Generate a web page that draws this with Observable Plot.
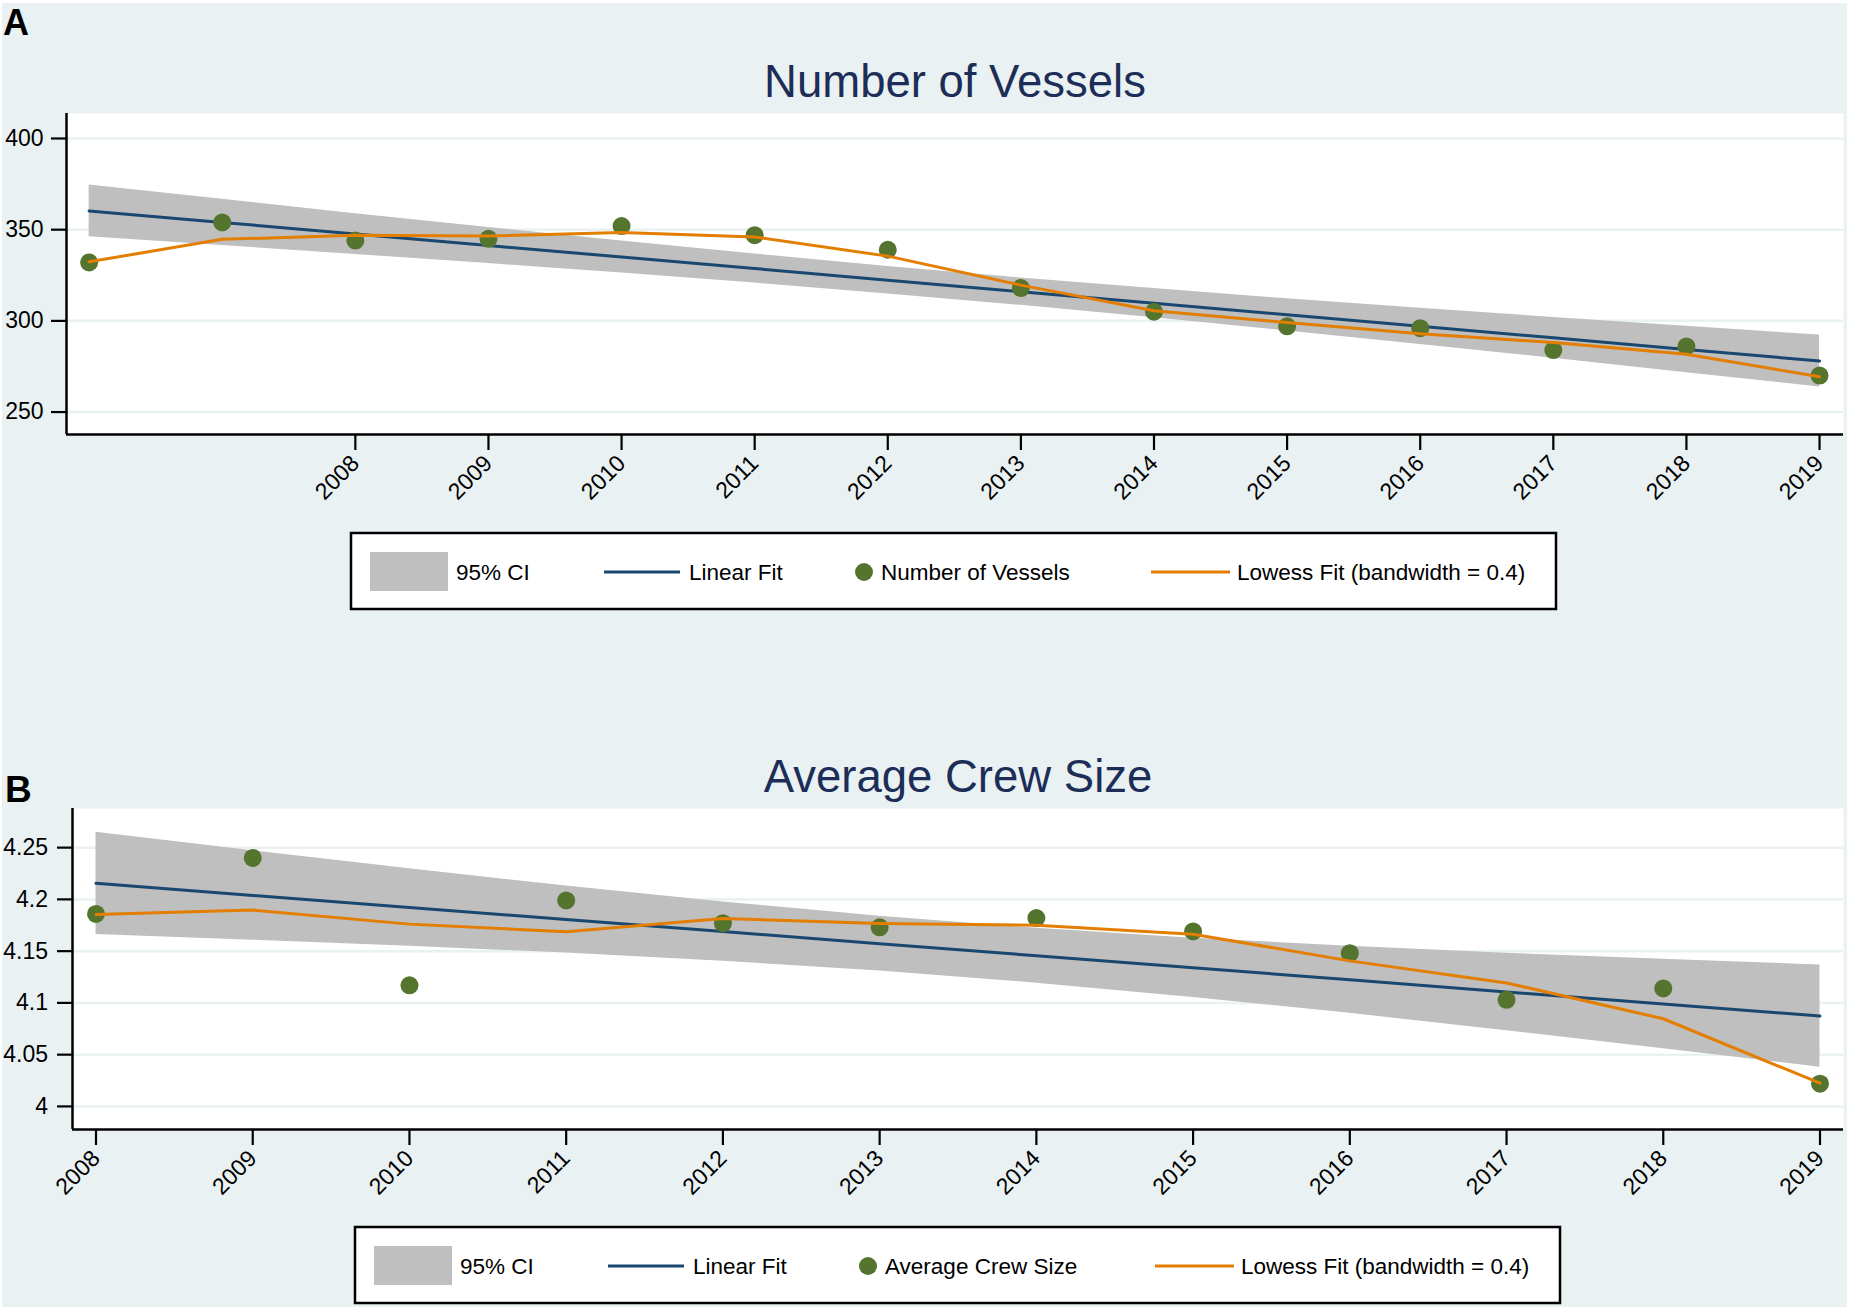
<!DOCTYPE html>
<html>
<head>
<meta charset="utf-8">
<script src="https://cdn.jsdelivr.net/npm/d3@7"></script>
<script src="https://cdn.jsdelivr.net/npm/@observablehq/plot@0.6"></script>
<style>
  html, body { margin: 0; padding: 0; background: #ffffff; }
  #page { position: relative; width: 1849px; height: 1309px; overflow: hidden; font-family: "Liberation Sans", Arial, sans-serif; }
  #bg { position: absolute; left: 2px; top: 3px; width: 1845px; height: 1304px; background: #e9f1f2; }
  .plot { position: absolute; left: 0; }
  #overlay { position: absolute; left: 0; top: 0; }
</style>
</head>
<body>
<div id="page">
  <div id="bg"></div>
  <div id="plotA" class="plot" style="top:100px"></div>
  <div id="plotB" class="plot" style="top:795px"></div>
  <svg id="overlay" width="1849" height="1309"></svg>
</div>
<script>
// ---------- Data ----------
const vesselYears   = [2006, 2007, 2008, 2009, 2010, 2011, 2012, 2013, 2014, 2015, 2016, 2017, 2018, 2019];
const vessels       = [332, 354, 344, 345, 352, 347, 339, 318, 305, 297, 296, 284, 286, 270];
const vesselsLinear = [360.3, 354.0, 347.6, 341.3, 335.0, 328.7, 322.3, 316.0, 309.7, 303.3, 297.0, 290.7, 284.3, 278.0];
const vesselsCiLow  = [346.1, 341.3, 336.4, 331.4, 326.2, 320.7, 314.8, 308.5, 301.7, 294.5, 287.1, 279.5, 271.6, 263.8];
const vesselsCiHigh = [374.5, 366.7, 358.8, 351.2, 343.8, 336.7, 329.8, 323.5, 317.7, 312.1, 306.9, 301.9, 297.0, 292.2];
const vesselsLowess = [332.4, 344.7, 346.9, 346.5, 348.4, 346.0, 335.5, 319.6, 305.5, 299.1, 293.0, 288.1, 281.7, 269.4];
const vesselYTicks  = [250, 300, 350, 400];
const vesselXTicks  = [2008, 2009, 2010, 2011, 2012, 2013, 2014, 2015, 2016, 2017, 2018, 2019];

const crewYears   = [2008, 2009, 2010, 2011, 2012, 2013, 2014, 2015, 2016, 2017, 2018, 2019];
const crew        = [4.186, 4.240, 4.117, 4.199, 4.177, 4.173, 4.182, 4.169, 4.148, 4.103, 4.114, 4.022];
const crewLinear  = [4.2155, 4.2038, 4.1922, 4.1805, 4.1689, 4.1572, 4.1456, 4.1339, 4.1223, 4.1106, 4.0990, 4.0873];
const crewCiLow   = [4.1661, 4.1606, 4.1548, 4.1481, 4.1403, 4.1307, 4.1191, 4.1053, 4.0899, 4.0732, 4.0558, 4.0379];
const crewCiHigh  = [4.2649, 4.2470, 4.2296, 4.2129, 4.1975, 4.1837, 4.1721, 4.1625, 4.1547, 4.1480, 4.1422, 4.1367];
const crewLowess  = [4.1855, 4.1897, 4.1761, 4.1687, 4.1816, 4.1767, 4.1751, 4.1664, 4.1406, 4.1193, 4.0847, 4.0224];
const crewYTicks  = [4, 4.05, 4.1, 4.15, 4.2, 4.25];
const crewYTickLabels = ["4", "4.05", "4.1", "4.15", "4.2", "4.25"];
const crewXTicks  = [2008, 2009, 2010, 2011, 2012, 2013, 2014, 2015, 2016, 2017, 2018, 2019];

const titles = ["Number of Vessels", "Average Crew Size"];
const panelLetters = ["A", "B"];
const legendLabelsA = ["95% CI", "Linear Fit", "Number of Vessels", "Lowess Fit (bandwidth = 0.4)"];
const legendLabelsB = ["95% CI", "Linear Fit", "Average Crew Size", "Lowess Fit (bandwidth = 0.4)"];

// ---------- Styles ----------
const C = {
  bg: "#e9f1f2", grid: "#e9f1f2", ci: "#bfbfbf", linear: "#1a476f",
  dots: "#55752f", lowess: "#e37e00", title: "#1c2d57"
};
const FONT = "'Liberation Sans', Arial, sans-serif";

function panel({years, values, lin, lo, hi, low, xDomain, yDomain, yTicks, yFmt, xTicks, marginLeft, yPad}) {
  const rows = years.map((x, i) => ({x, v: values[i], lin: lin[i], lo: lo[i], hi: hi[i], low: low[i]}));
  return Plot.plot({
    width: 1849, height: 400,
    marginLeft, marginRight: 6, marginTop: 13, marginBottom: 66,
    x: {domain: xDomain},
    y: {domain: yDomain},
    style: {background: "transparent", fontFamily: FONT, color: "black", overflow: "visible"},
    marks: [
      Plot.frame({fill: "white", stroke: "none"}),
      Plot.gridY(yTicks, {stroke: C.grid, strokeOpacity: 1, strokeWidth: 2.5}),
      Plot.areaY(rows, {x: "x", y1: "lo", y2: "hi", fill: C.ci, fillOpacity: 1}),
      Plot.lineY(rows, {x: "x", y: "lin", stroke: C.linear, strokeWidth: 3}),
      Plot.dot(rows, {x: "x", y: "v", r: 9, fill: C.dots, stroke: "none"}),
      Plot.lineY(rows, {x: "x", y: "low", stroke: C.lowess, strokeWidth: 3}),
      Plot.ruleX([xDomain[0]], {stroke: "black", strokeWidth: 2.5}),
      Plot.ruleY([yDomain[0]], {stroke: "black", strokeWidth: 2.5}),
      Plot.axisY({ticks: yTicks, tickFormat: yFmt, tickSize: 15, tickPadding: yPad, fontSize: 23, strokeWidth: 2.2, label: null}),
      Plot.axisX({ticks: xTicks, tickFormat: d => String(d), tickSize: 16, tickPadding: 9, tickRotate: -45, fontSize: 23, strokeWidth: 2.2, label: null})
    ]
  });
}

document.getElementById("plotA").append(panel({
  years: vesselYears, values: vessels, lin: vesselsLinear, lo: vesselsCiLow, hi: vesselsCiHigh, low: vesselsLowess,
  xDomain: [2005.83, 2019.18], yDomain: [237.7, 413.7], yTicks: vesselYTicks, yFmt: d => String(d),
  xTicks: vesselXTicks, marginLeft: 66, yPad: 8
}));
document.getElementById("plotB").append(panel({
  years: crewYears, values: crew, lin: crewLinear, lo: crewCiLow, hi: crewCiHigh, low: crewLowess,
  xDomain: [2007.85, 2019.15], yDomain: [3.9777, 4.2878], yTicks: crewYTicks,
  yFmt: d => crewYTickLabels[crewYTicks.indexOf(d)] ?? String(d),
  xTicks: crewXTicks, marginLeft: 72, yPad: 9.5
}));

// ---------- Titles, panel letters, legends ----------
const ov = d3.select("#overlay");
ov.append("text").attr("x", 955).attr("y", 97).attr("text-anchor", "middle")
  .attr("font-family", FONT).attr("font-size", 45.5).attr("fill", C.title).text(titles[0]);
ov.append("text").attr("x", 958).attr("y", 792).attr("text-anchor", "middle")
  .attr("font-family", FONT).attr("font-size", 45.5).attr("fill", C.title).text(titles[1]);
ov.append("text").attr("x", 3).attr("y", 35).attr("font-family", FONT).attr("font-weight", "bold")
  .attr("font-size", 36).attr("fill", "black").text(panelLetters[0]);
ov.append("text").attr("x", 5).attr("y", 802).attr("font-family", FONT).attr("font-weight", "bold")
  .attr("font-size", 37).attr("fill", "black").text(panelLetters[1]);

function legend(left, top, labels) {
  const g = ov.append("g").attr("transform", `translate(${left},${top})`);
  g.append("rect").attr("x", 0).attr("y", 0).attr("width", 1205).attr("height", 76)
    .attr("fill", "white").attr("stroke", "black").attr("stroke-width", 2.5);
  const cy = 39, fs = 22.5, by = cy + 8;
  g.append("rect").attr("x", 19).attr("y", 19).attr("width", 78).attr("height", 39).attr("fill", C.ci);
  g.append("text").attr("x", 105).attr("y", by).attr("font-family", FONT).attr("font-size", fs).text(labels[0]);
  g.append("line").attr("x1", 253).attr("x2", 329).attr("y1", cy).attr("y2", cy).attr("stroke", C.linear).attr("stroke-width", 3);
  g.append("text").attr("x", 338).attr("y", by).attr("font-family", FONT).attr("font-size", fs).text(labels[1]);
  g.append("circle").attr("cx", 513).attr("cy", cy).attr("r", 9).attr("fill", C.dots);
  g.append("text").attr("x", 530).attr("y", by).attr("font-family", FONT).attr("font-size", fs).text(labels[2]);
  g.append("line").attr("x1", 800).attr("x2", 879).attr("y1", cy).attr("y2", cy).attr("stroke", C.lowess).attr("stroke-width", 3);
  g.append("text").attr("x", 886).attr("y", by).attr("font-family", FONT).attr("font-size", fs).text(labels[3]);
}
legend(351, 533, legendLabelsA);
legend(355, 1227, legendLabelsB);
</script>
</body>
</html>
